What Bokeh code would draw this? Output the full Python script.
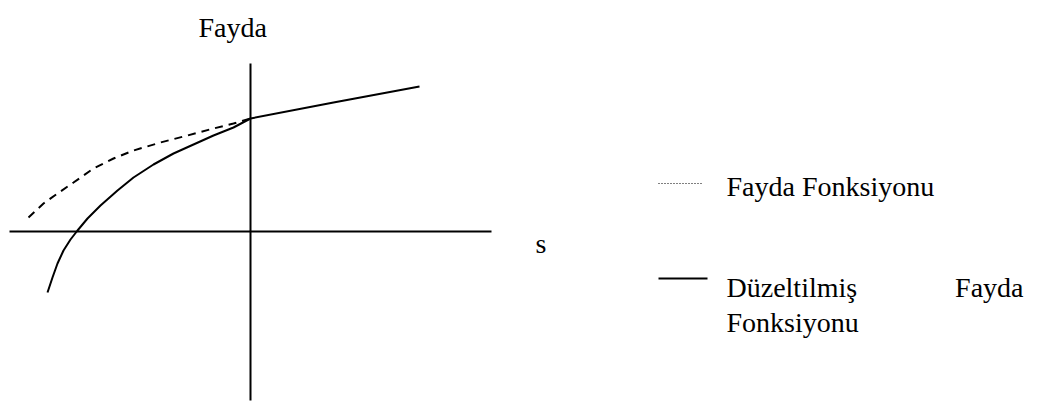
from bokeh.plotting import figure
from bokeh.models import Range1d
from bokeh.core.properties import value
from bokeh.embed import file_html
from bokeh.resources import INLINE

# Adjusted utility function (solid)
adj_x = [-20.3, -19.8, -19.3, -18.7, -18.0, -17.3, -16.3, -15.0, -13.3, -11.7, -9.7, -7.7,
         -5.7, -3.7, -1.7, 0.0, 8.3, 16.9]
adj_y = [-6.1, -4.6, -3.2, -1.9, -0.8, 0.1, 1.3, 2.6, 4.1, 5.4, 6.7, 7.8,
         8.7, 9.6, 10.4, 11.3, 12.9, 14.5]

# Utility function (dashed)
util_x = [-22.2, -20.7, -19.3, -17.7, -15.7, -13.7, -11.7, -9.0, -6.3, -3.7, -1.7, 0.0]
util_y = [1.4, 2.8, 3.8, 4.9, 6.3, 7.3, 8.1, 8.9, 9.6, 10.3, 10.8, 11.3]

# Axis extents
haxis_x = [-24.1, 24.1]
vaxis_y = [-16.9, 16.8]

title_text = "Fayda"
xlabel_text = "s"
legend_1 = "Fayda Fonksiyonu"
legend_2a = "Düzeltilmiş"
legend_2b = "Fayda"
legend_2c = "Fonksiyonu"

FONT = value("Liberation Serif")
FS = value("28px")

p = figure(width=1037, height=401, output_backend="svg", toolbar_location=None,
           x_range=Range1d(-25.0, 78.7), y_range=Range1d(-17.0, 23.1),
           min_border=0, outline_line_color=None)
p.xaxis.visible = False
p.yaxis.visible = False
p.grid.visible = False
p.background_fill_color = "white"
p.border_fill_color = "white"

# axes
p.line(haxis_x, [0, 0], line_color="black", line_width=2)
p.line([0, 0], vaxis_y, line_color="black", line_width=2)

# curves
p.line(util_x, util_y, line_color="black", line_width=2, line_dash="8 6")
p.line(adj_x, adj_y, line_color="black", line_width=2, line_join="round")

# texts
p.text(x=[-5.2], y=[20.4], text=[title_text], text_font=FONT, text_font_size=FS,
       text_align="left", text_baseline="alphabetic", text_color="black")
p.text(x=[28.5], y=[-1.2], text=[xlabel_text], text_font=FONT, text_font_size=FS,
       text_align="left", text_baseline="alphabetic", text_color="black")

# legend
p.line([40.8, 45.3], [4.8, 4.8], line_color="black", line_width=1.2, line_dash="1 2")
p.text(x=[47.6], y=[4.5], text=[legend_1], text_font=FONT, text_font_size=FS,
       text_align="left", text_baseline="alphabetic", text_color="black")
p.line([40.8, 45.7], [-4.7, -4.7], line_color="black", line_width=2)
p.text(x=[47.6], y=[-5.6], text=[legend_2a], text_font=FONT, text_font_size=FS,
       text_align="left", text_baseline="alphabetic", text_color="black")
p.text(x=[77.3], y=[-5.6], text=[legend_2b], text_font=FONT, text_font_size=FS,
       text_align="right", text_baseline="alphabetic", text_color="black")
p.text(x=[47.6], y=[-9.1], text=[legend_2c], text_font=FONT, text_font_size=FS,
       text_align="left", text_baseline="alphabetic", text_color="black")

open("out.html", "w").write(file_html(p, INLINE))
